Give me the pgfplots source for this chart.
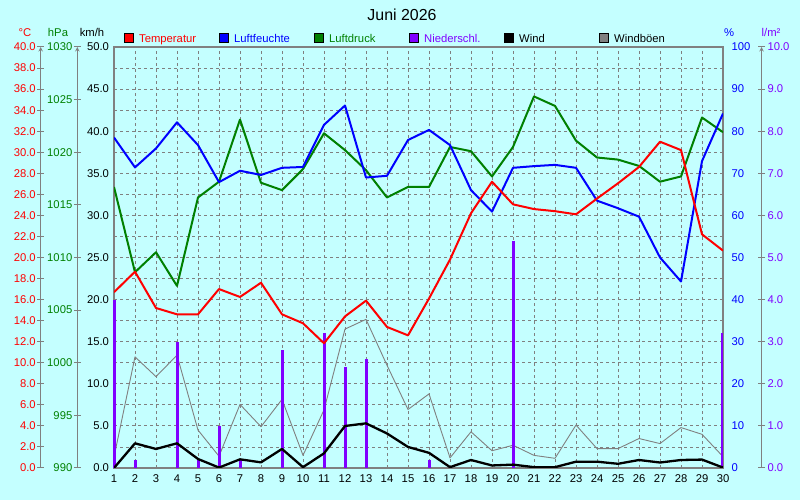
\documentclass[border=0pt]{standalone}
\usepackage{pgfplots}
\pgfplotsset{compat=1.18}
\usepackage{fontspec}
\setmainfont{Liberation Sans}
\definecolor{bgc}{RGB}{196,255,255}
\definecolor{fgray}{RGB}{128,128,128}
\definecolor{tred}{RGB}{255,0,0}
\definecolor{hblue}{RGB}{0,0,255}
\definecolor{pgreen}{RGB}{0,128,0}
\definecolor{rpurp}{RGB}{128,0,255}
\newcommand{\lblfont}{\fontsize{11.3}{13}\selectfont}
\pgfplotsset{
  base/.style={at={(114bp,32bp)}, anchor=south west, scale only axis,
    width=609bp, height=421bp, xmin=1, xmax=30},
  hid/.style={base, hide axis},
  scaleax/.style={scale only axis, height=421bp, width=10bp, hide x axis,
    xmin=0, xmax=1, tick align=center, major tick length=7bp,
    tick style={draw=fgray, line width=1bp},
    y axis line style={draw=fgray, line width=1bp, -},
    scaled y ticks=false,
    /pgf/number format/assume math mode=true,
    /pgf/number format/1000 sep={},
    yticklabel style={font=\lblfont}},
}
\begin{document}
\begin{tikzpicture}[x=1bp,y=1bp]
\fill[bgc] (0,0) rectangle (800,500);
% main axis: km/h, grid, frame, gusts
\begin{axis}[base, ymin=0, ymax=50,
  xtick={1,...,30}, ytick={0,5,...,50}, minor ytick={2.5,7.5,...,47.5},
  grid=both,
  major grid style={draw=fgray, line width=0.8bp, dash pattern=on 3bp off 3bp},
  minor grid style={draw=fgray, line width=0.8bp, dash pattern=on 3bp off 3bp},
  axis line style={draw=fgray, line width=2.5bp},
  tick style={draw=none},
  axis background/.style={fill=bgc},
  /pgf/number format/assume math mode=true,
  xticklabel style={font=\lblfont, yshift=-3.5bp},
  yticklabel style={font=\lblfont, xshift=-1.5bp, /pgf/number format/fixed,
    /pgf/number format/precision=1, /pgf/number format/fixed zerofill},
]
\addplot[fgray, line width=0.9bp, line join=round] coordinates {
(1,1.3) (2,13.2) (3,10.85) (4,13.4) (5,4.5) (6,1.4) (7,7.55) (8,4.9) (9,8.15) (10,1.5)
(11,6.9) (12,16.5) (13,17.65) (14,12.2) (15,6.95) (16,8.8) (17,1.2) (18,4.3) (19,2.05) (20,2.7)
(21,1.5) (22,1.15) (23,5.1) (24,2.3) (25,2.3) (26,3.5) (27,2.9) (28,4.8) (29,4.0) (30,1.35)};
\end{axis}
% precipitation
\begin{axis}[hid, ymin=0, ymax=10, clip=false]
\addplot[ycomb, draw=rpurp, line width=3bp, mark=none] coordinates {
(1,4.0) (2,0.2) (4,3.0) (5,0.2) (6,1.0) (7,0.2) (9,2.8) (11,3.2) (12,2.4) (13,2.6) (16,0.2) (20,5.4)};
\addplot[ycomb, draw=rpurp, line width=1.5bp, mark=none] coordinates {(29.96,3.2)};
\end{axis}
% wind
\begin{axis}[hid, ymin=0, ymax=50]
\addplot[black, line width=2.3bp, line join=round] coordinates {
(1,0) (2,2.93) (3,2.26) (4,2.93) (5,1.07) (6,0.05) (7,1.03) (8,0.67) (9,2.26) (10,0.1)
(11,1.74) (12,4.99) (13,5.3) (14,4.1) (15,2.5) (16,1.8) (17,0.1) (18,0.95) (19,0.3) (20,0.4)
(21,0.1) (22,0.1) (23,0.75) (24,0.75) (25,0.5) (26,0.95) (27,0.65) (28,0.95) (29,1.0) (30,0.05)};
\end{axis}
% pressure
\begin{axis}[hid, ymin=990, ymax=1030]
\addplot[pgreen, line width=2bp, line join=round] coordinates {
(1,1016.7) (2,1008.6) (3,1010.5) (4,1007.3) (5,1015.7) (6,1017.2) (7,1023.1) (8,1017.1) (9,1016.4) (10,1018.4)
(11,1021.8) (12,1020.2) (13,1018.3) (14,1015.7) (15,1016.7) (16,1016.7) (17,1020.5) (18,1020.1) (19,1017.7) (20,1020.5)
(21,1025.3) (22,1024.4) (23,1021.1) (24,1019.5) (25,1019.3) (26,1018.7) (27,1017.2) (28,1017.7) (29,1023.3) (30,1021.9)};
\end{axis}
% humidity with right % scale
\begin{axis}[base, ymin=0, ymax=100, hide x axis, axis y line=right,
  y axis line style={draw=none}, ytick={0,10,...,100}, tick style={draw=none},
  /pgf/number format/assume math mode=true,
  yticklabel style={font=\lblfont, text=hblue, xshift=3bp}]
\addplot[hblue, line width=2bp, line join=round] coordinates {
(1,78.5) (2,71.4) (3,75.9) (4,82.1) (5,76.7) (6,67.9) (7,70.6) (8,69.6) (9,71.3) (10,71.5)
(11,81.5) (12,86.1) (13,69.0) (14,69.4) (15,77.9) (16,80.3) (17,76.7) (18,66.0) (19,60.9) (20,71.3)
(21,71.7) (22,72.0) (23,71.3) (24,63.5) (25,61.7) (26,59.7) (27,50.0) (28,44.3) (29,72.9) (30,84.2)};
\end{axis}
% temperature
\begin{axis}[hid, ymin=0, ymax=40]
\addplot[tred, line width=2bp, line join=round] coordinates {
(1,16.7) (2,18.65) (3,15.2) (4,14.6) (5,14.6) (6,17.0) (7,16.25) (8,17.6) (9,14.6) (10,13.75)
(11,11.85) (12,14.4) (13,15.9) (14,13.4) (15,12.6) (16,16.1) (17,19.8) (18,24.2) (19,27.2) (20,25.05)
(21,24.6) (22,24.4) (23,24.1) (24,25.6) (25,27.05) (26,28.6) (27,31.0) (28,30.2) (29,22.2) (30,20.65)};
\end{axis}
% degC scale
\begin{axis}[scaleax, at={(40.7bp,32bp)}, anchor=south west, axis y line=left,
  ymin=0, ymax=40, ytick={0,2,...,40},
  yticklabel style={text=tred, xshift=2bp, /pgf/number format/fixed,
    /pgf/number format/precision=1, /pgf/number format/fixed zerofill}]
\addplot[draw=none] coordinates {(0,0)};
\end{axis}
% hPa scale
\begin{axis}[scaleax, at={(77.3bp,32bp)}, anchor=south west, axis y line=left,
  ymin=990, ymax=1030, ytick={990,995,...,1030},
  yticklabel style={text=pgreen, xshift=2bp, /pgf/number format/fixed,
    /pgf/number format/precision=0}]
\addplot[draw=none] coordinates {(0,990)};
\end{axis}
% l/m2 scale
\begin{axis}[scaleax, at={(761.5bp,32bp)}, anchor=south east, axis y line=right,
  ymin=0, ymax=10, ytick={0,1,...,10},
  yticklabel style={text=rpurp, xshift=-1bp, /pgf/number format/fixed,
    /pgf/number format/precision=1, /pgf/number format/fixed zerofill}]
\addplot[draw=none] coordinates {(1,0)};
\end{axis}
% units
\node[anchor=base, text=tred, font=\lblfont] at (25,463) {°C};
\node[anchor=base, text=pgreen, font=\lblfont] at (58,463) {hPa};
\node[anchor=base, text=black, font=\lblfont] at (92,463) {km/h};
\node[anchor=base, text=hblue, font=\lblfont] at (729,463) {\%};
\node[anchor=base, text=rpurp, font=\lblfont] at (771,463) {l/m²};
% title
\node[anchor=base, font=\fontsize{16}{18}\selectfont] at (402,479) {Juni 2026};
% legend
\foreach \i/\c/\t/\tc in {0/tred/Temperatur/tred, 1/hblue/Luftfeuchte/hblue,
  2/pgreen/Luftdruck/pgreen, 3/rpurp/Niederschl./rpurp, 4/black/Wind/black,
  5/fgray/Windböen/black} {
  \filldraw[fill=\c, draw=black, line width=1bp] (124.5+95*\i,457.5) rectangle ++(9,9);
  \node[anchor=base west, inner sep=0pt, text=\tc, font=\lblfont] at (139+95*\i,457) {\t};
}
\pgfresetboundingbox
\useasboundingbox (0,0) rectangle (800,500);
\end{tikzpicture}
\end{document}
